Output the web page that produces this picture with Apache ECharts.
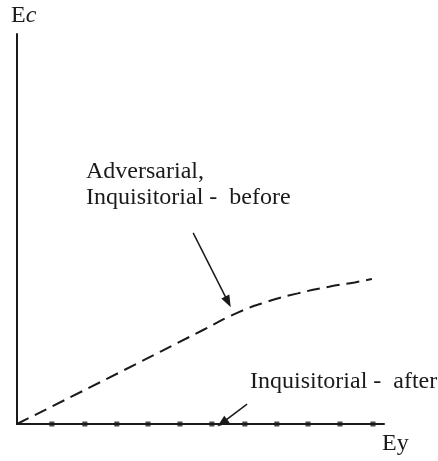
<!DOCTYPE html>
<html>
<head>
<meta charset="utf-8">
<script src="https://cdn.jsdelivr.net/npm/echarts@6/dist/echarts.min.js"></script>
<style>
  html, body { margin: 0; padding: 0; background: #fff; }
  #main { width: 438px; height: 461px; }
</style>
</head>
<body>
<div id="main"></div>
<script>
// curve "Adversarial, Inquisitorial - before" (arbitrary units 0..100)
var beforeX = [0, 28.1, 50.7, 60.0, 68.0, 76.5, 85.0, 92.0, 96.7];
var beforeY = [0, 13.3, 24.1, 28.5, 31.3, 33.5, 35.2, 36.3, 37.2];
// dotted "Inquisitorial - after", flat on the Ey axis
var afterX = [9.5, 18.5, 27.2, 35.7, 44.4, 53.1, 62.1, 70.8, 79.3, 88.0, 97.0];
var afterY = [0, 0, 0, 0, 0, 0, 0, 0, 0, 0, 0];
// annotation arrows [fromX, fromY, toX, toY]
var arrowBefore = [48.0, 49.0, 57.5, 31.3];
var arrowAfter = [62.7, 5.1, 55.9, 0.3];
var labelBefore = 'Adversarial,\nInquisitorial -  before';
var labelAfter = 'Inquisitorial -  after';

var font = '"Liberation Serif", "Times New Roman", serif';
var ink = '#1a1a1a';

var chartDom = document.getElementById('main');
var myChart = echarts.init(chartDom);

function zip(xs, ys) {
  return xs.map(function (x, i) { return [x, ys[i]]; });
}

function arrow(a) {
  return [
    { coord: [a[0], a[1]] },
    { coord: [a[2], a[3]] }
  ];
}

var option = {
  animation: false,
  grid: { left: 17, top: 34, right: 54, bottom: 37 },
  xAxis: {
    type: 'value', min: 0, max: 100,
    name: 'Ey', nameLocation: 'end', nameGap: -2,
    nameTextStyle: {
      fontFamily: font, fontSize: 24, color: ink,
      align: 'left', verticalAlign: 'top', padding: [8, 0, 0, 0],
      rich: {}
    },
    axisLine: { lineStyle: { color: ink, width: 2 } },
    axisTick: { show: false }, axisLabel: { show: false }, splitLine: { show: false }
  },
  yAxis: {
    type: 'value', min: 0, max: 100,
    name: '{a|E}{b|c}', nameLocation: 'end', nameGap: 6,
    nameTextStyle: {
      align: 'left', padding: [0, 0, 0, -6],
      rich: {
        a: { fontFamily: font, fontSize: 24, color: ink },
        b: { fontFamily: font, fontSize: 24, color: ink, fontStyle: 'italic' }
      }
    },
    axisLine: { show: true, lineStyle: { color: ink, width: 2 } },
    axisTick: { show: false }, axisLabel: { show: false }, splitLine: { show: false }
  },
  series: [
    {
      type: 'line',
      data: zip(beforeX, beforeY),
      smooth: 0.5,
      symbol: 'none',
      lineStyle: { color: ink, width: 2, type: [13, 7] },
      markLine: {
        silent: true,
        symbol: ['none', 'triangle'],
        symbolSize: [9, 12],
        label: { show: false },
        lineStyle: { color: ink, width: 1.5, type: 'solid' },
        data: [arrow(arrowBefore), arrow(arrowAfter)]
      }
    },
    {
      type: 'scatter',
      data: zip(afterX, afterY),
      symbol: 'rect',
      symbolSize: 5,
      itemStyle: { color: ink }
    }
  ],
  graphic: [
    {
      type: 'text', left: 86, top: 159,
      style: { text: labelBefore, font: '24px ' + font, fill: ink, lineHeight: 26 }
    },
    {
      type: 'text', left: 250, top: 370,
      style: { text: labelAfter, font: '24px ' + font, fill: ink }
    }
  ]
};

option && myChart.setOption(option);
</script>
</body>
</html>
